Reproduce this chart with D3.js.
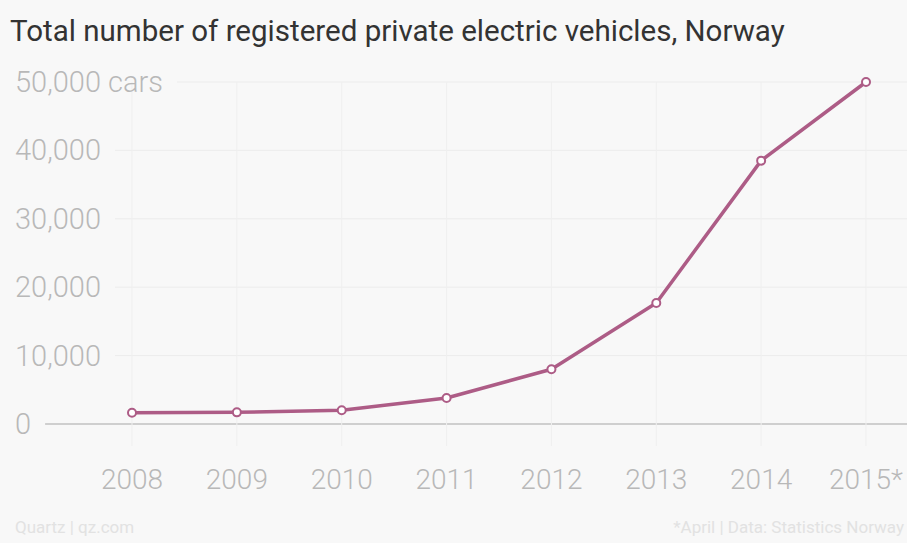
<!DOCTYPE html>
<html><head><meta charset="utf-8">
<script src="https://cdn.jsdelivr.net/npm/d3@7"></script>
<style>
html,body{margin:0;padding:0;background:#f8f8f8;}
svg{display:block;}
</style></head>
<body><svg id="chart" width="907" height="543"></svg>
<script>
const years = ["2008","2009","2010","2011","2012","2013","2014","2015*"];
const cars = [1650, 1700, 2000, 3800, 8000, 17700, 38500, 50000];
const yTicks = [0, 10000, 20000, 30000, 40000, 50000];
const title = "Total number of registered private electric vehicles, Norway";
const unit = " cars";
const sourceLeft = "Quartz | qz.com";
const sourceRight = "*April | Data: Statistics Norway";

const svg = d3.select("#chart");
const W = 907, H = 543;
svg.append("rect").attr("width", W).attr("height", H).attr("fill", "#f8f8f8");

const x = d3.scalePoint().domain(years).range([132, 866]);
const y = d3.scaleLinear().domain([0, 50000]).range([424, 82]);
const color = "#ad5c86";
const fmt = d3.format(",");

// vertical grid
svg.append("g").selectAll("line").data(years).join("line")
  .attr("x1", d => x(d)).attr("x2", d => x(d))
  .attr("y1", y(50000)).attr("y2", 446)
  .attr("stroke", "#efefef").attr("stroke-width", 1);

// y labels
const yl = svg.append("g").selectAll("text").data(yTicks).join("text")
  .attr("x", 15).attr("y", d => y(d) + 10)
  .attr("font-family", "Roboto, sans-serif").attr("font-weight", 300)
  .attr("font-size", 29).attr("fill", "#b8b8b8")
  .text(d => fmt(d) + (d === 50000 ? unit : ""));

// horizontal grid starting after labels
yl.each(function(d) {
  const bb = this.getBBox();
  svg.insert("line", "g")
    .attr("x1", bb.x + bb.width + 14).attr("x2", W)
    .attr("y1", y(d)).attr("y2", y(d))
    .attr("stroke", d === 0 ? "#cfcfcf" : "#ececec")
    .attr("stroke-width", d === 0 ? 2 : 1);
});

// x labels
svg.append("g").selectAll("text").data(years).join("text")
  .attr("x", d => x(d)).attr("y", 489)
  .attr("text-anchor", "middle")
  .attr("font-family", "Roboto, sans-serif").attr("font-weight", 300)
  .attr("font-size", 28).attr("fill", "#b8b8b8")
  .text(d => d);

// line
const line = d3.line().x((d, i) => x(years[i])).y(d => y(d));
svg.append("path").datum(cars).attr("d", line)
  .attr("fill", "none").attr("stroke", color).attr("stroke-width", 3.5)
  .attr("stroke-linejoin", "round");

svg.append("g").selectAll("circle").data(cars).join("circle")
  .attr("cx", (d, i) => x(years[i])).attr("cy", d => y(d))
  .attr("r", 4).attr("fill", "#fff").attr("stroke", color).attr("stroke-width", 2);

// title
const t = svg.append("text").attr("x", 10).attr("y", 41)
  .attr("font-family", "Roboto, sans-serif")
  .attr("font-size", 27).attr("fill", "#333")
  .text(title);
const tw = t.node().getComputedTextLength();
t.attr("font-size", 27 * 775 / tw);

// footer
svg.append("text").attr("x", 15).attr("y", 533)
  .attr("font-family", "Roboto, sans-serif").attr("font-size", 17).attr("fill", "#e2e2e2")
  .text(sourceLeft);
svg.append("text").attr("x", 904).attr("y", 533).attr("text-anchor", "end")
  .attr("font-family", "Roboto, sans-serif").attr("font-size", 17).attr("fill", "#e2e2e2")
  .text(sourceRight);
</script>
</body></html>
